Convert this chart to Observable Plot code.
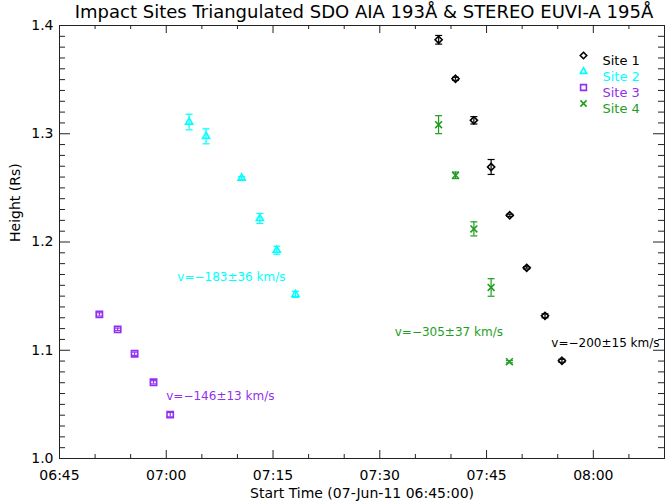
<!DOCTYPE html>
<html><head><meta charset="utf-8">
<script src="https://cdn.jsdelivr.net/npm/d3@7"></script>
<script src="https://cdn.jsdelivr.net/npm/@observablehq/plot@0.6"></script>
<style>
html,body{margin:0;padding:0;background:#fff;overflow:hidden;}
#title{height:22px;line-height:23px;padding-left:63px;text-align:center;font-family:"DejaVu Sans",sans-serif;font-size:18px;white-space:nowrap;color:#000;}
#chart svg{display:block;}
</style></head><body>
<div id="title">Impact Sites Triangulated SDO AIA 193Å &amp; STEREO EUVI-A 195Å</div>
<div id="chart"></div>
<script>
// Series: time in minutes after 07-Jun-11 06:45:00, height in solar radii
const siteNames = ["Site 1", "Site 2", "Site 3", "Site 4"];
const siteColors = ["#000000", "#00ffff", "#9130f0", "#1e9e1e"];
const siteSymbols = ["diamond2", "triangle2", "square2", "times"];
const siteRadius = [3.2, 3.4, 4.0, 3.2];

const site1Time   = [53.27, 55.64, 58.22, 60.64, 63.26, 65.64, 68.21, 70.59];
const site1Height = [1.3868, 1.3508, 1.3124, 1.2693, 1.2247, 1.1761, 1.1318, 1.0903];
const site1Err    = [0.0040, 0.0014, 0.0034, 0.0069, 0.0010, 0.0010, 0.0018, 0.0014];

const site2Time   = [18.21, 20.59, 25.59, 28.15, 30.53, 33.15];
const site2Height = [1.3108, 1.2976, 1.2591, 1.2217, 1.1924, 1.1516];
const site2Err    = [0.0072, 0.0069, 0.0014, 0.0046, 0.0037, 0.0028];

const site3Time   = [5.60, 8.17, 10.55, 13.21, 15.55];
const site3Height = [1.1331, 1.1193, 1.0968, 1.0704, 1.0405];
const site3Err    = [0.0015, 0.0012, 0.0015, 0.0015, 0.0020];

const site4Time   = [53.26, 55.64, 58.22, 60.64, 63.21];
const site4Height = [1.3084, 1.2616, 1.2121, 1.1580, 1.0894];
const site4Err    = [0.0083, 0.0030, 0.0065, 0.0081, 0.0010];

// velocity annotations (left anchor, data coordinates)
const noteText   = ["v=−200±15 km/s", "v=−183±36 km/s", "v=−146±13 km/s", "v=−305±37 km/s"];
const noteTime   = [69.1, 16.55, 15.0, 47.1];
const noteHeight = [1.1069, 1.1678, 1.0578, 1.1171];
const noteSite   = [0, 1, 2, 3];

// axis ticks
const xMajor = [0, 15, 30, 45, 60, 75];
const xMinor = [5, 10, 20, 25, 35, 40, 50, 55, 65, 70, 80, 85];
const xTickLabels = ["06:45", "07:00", "07:15", "07:30", "07:45", "08:00"];
const yMajor = [1.0, 1.1, 1.2, 1.3, 1.4];
const yMinor = d3.range(1, 40).filter(i => i % 10 !== 0).map(i => 1 + i / 100);

const series = [
  [site1Time, site1Height, site1Err],
  [site2Time, site2Height, site2Err],
  [site3Time, site3Height, site3Err],
  [site4Time, site4Height, site4Err]
];
const rows = series.flatMap(([t, h, e], s) => t.map((ti, i) => ({site: s, t: ti, h: h[i], e: e[i]})));
const notes = noteText.map((text, i) => ({text, t: noteTime[i], h: noteHeight[i], site: noteSite[i]}));

const W = 665, H = 481, mL = 59, mR = 1, mT = 3, mB = 45;
const FW = W - mL - mR, FH = H - mT - mB;

const capSymbol = {draw(ctx, size) { const w = Math.sqrt(size / Math.PI); ctx.moveTo(-w, 0); ctx.lineTo(w, 0); }};
const axisStroke = "#222";

const marks = [
  // ticks on all four sides
  Plot.tickX(xMajor, {x: d => d, insetTop: FH - 8, stroke: axisStroke}),
  Plot.tickX(xMinor, {x: d => d, insetTop: FH - 4, stroke: axisStroke}),
  Plot.tickX(xMajor, {x: d => d, insetBottom: FH - 8, stroke: axisStroke}),
  Plot.tickX(xMinor, {x: d => d, insetBottom: FH - 4, stroke: axisStroke}),
  Plot.tickY(yMajor, {y: d => d, insetRight: FW - 11, stroke: axisStroke}),
  Plot.tickY(yMinor, {y: d => d, insetRight: FW - 6, stroke: axisStroke}),
  Plot.tickY(yMajor, {y: d => d, insetLeft: FW - 11, stroke: axisStroke}),
  Plot.tickY(yMinor, {y: d => d, insetLeft: FW - 6, stroke: axisStroke}),
  Plot.frame({stroke: axisStroke}),
  Plot.axisX({ticks: xMajor, tickSize: 0, tickPadding: 12, tickFormat: d => xTickLabels[xMajor.indexOf(d)], fontSize: 14, fill: "#000", label: null}),
  Plot.axisY({ticks: yMajor, tickSize: 0, tickPadding: 6, tickFormat: d3.format(".1f"), fontSize: 14, fill: "#000", label: null}),
  Plot.text(["Height (Rs)"], {text: d => d, frameAnchor: "left", dx: -44, rotate: -90, fontSize: 14, fill: "#000"}),
  Plot.text(["Start Time (07-Jun-11 06:45:00)"], {text: d => d, frameAnchor: "bottom", dy: 39, fontSize: 14, fill: "#000"}),
  // error bars
  Plot.ruleX(rows, {x: "t", y1: d => d.h - d.e, y2: d => d.h + d.e, stroke: d => siteColors[d.site], strokeWidth: 1.2}),
  Plot.dot(rows, {x: "t", y: d => d.h - d.e, symbol: capSymbol, r: 3.5, stroke: d => siteColors[d.site], strokeWidth: 1.2}),
  Plot.dot(rows, {x: "t", y: d => d.h + d.e, symbol: capSymbol, r: 3.5, stroke: d => siteColors[d.site], strokeWidth: 1.2}),
  // velocity labels
  Plot.text(notes, {x: "t", y: "h", text: "text", textAnchor: "start", fill: d => siteColors[d.site], fontSize: 12})
];

// markers, one mark per site
siteNames.forEach((name, i) => {
  marks.push(Plot.dot(rows.filter(d => d.site === i), {x: "t", y: "h", symbol: siteSymbols[i], r: siteRadius[i], stroke: siteColors[i], fill: "none", strokeWidth: 1.6}));
});

// legend inside the plot, top right
siteNames.forEach((name, i) => {
  marks.push(Plot.dot([name], {frameAnchor: "top-left", dx: 524, dy: 30 + 16 * i, symbol: siteSymbols[i], r: siteRadius[i] - 0.3, stroke: siteColors[i], fill: "none", strokeWidth: 1.6}));
  marks.push(Plot.text([name], {text: d => d, frameAnchor: "top-left", dx: 543, dy: 30 + 16 * i, textAnchor: "start", fill: siteColors[i], fontSize: 13}));
});

const chart = Plot.plot({
  width: W, height: H,
  marginLeft: mL, marginRight: mR, marginTop: mT, marginBottom: mB,
  x: {domain: [0, 85]},
  y: {domain: [1.0, 1.4]},
  style: {fontFamily: "DejaVu Sans", fontSize: "14px", color: "#000", background: "#fff", overflow: "visible"},
  marks
});
document.getElementById("chart").append(chart);
</script>
</body></html>
